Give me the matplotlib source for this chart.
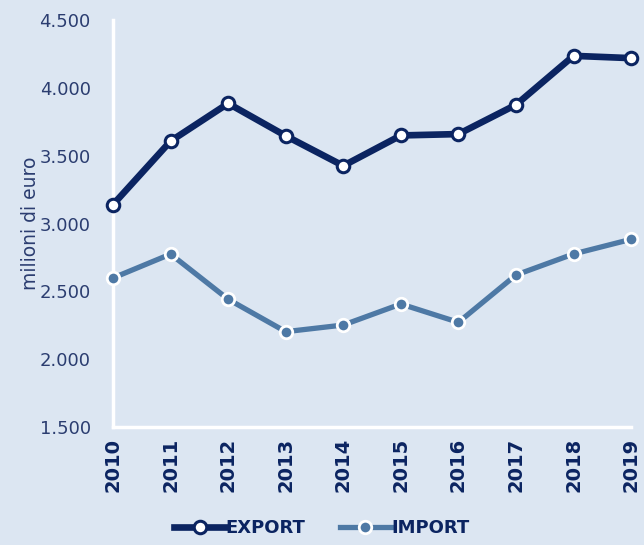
import matplotlib
matplotlib.use("Agg")
import matplotlib.pyplot as plt
from matplotlib.ticker import FuncFormatter

years = ["2010", "2011", "2012", "2013", "2014", "2015", "2016", "2017", "2018", "2019"]
export_vals = [3140, 3608, 3886, 3647, 3426, 3650, 3660, 3876, 4237, 4220]
import_vals = [2599, 2775, 2442, 2203, 2252, 2407, 2272, 2621, 2776, 2884]
y_ticks = [1500, 2000, 2500, 3000, 3500, 4000, 4500]

BG = "#dce6f2"
NAVY = "#0b2461"
STEEL = "#4e79a5"
TXT = "#2b3d70"

plt.rcParams['font.family'] = ['DejaVu Sans']

fig = plt.figure(figsize=(6.44, 5.45), dpi=100, facecolor=BG)
ax = fig.add_axes([0.1755, 0.2165, 0.8045, 0.7465])
ax.set_facecolor(BG)

x = list(range(len(years)))
ax.plot(x, export_vals, color=NAVY, lw=4.8, marker='o', ms=9,
        mfc='white', mec=NAVY, mew=2.2, label='EXPORT', clip_on=False, zorder=3)
ax.plot(x, import_vals, color=STEEL, lw=3.8, marker='o', ms=9,
        mfc=STEEL, mec='white', mew=2.0, label='IMPORT', clip_on=False, zorder=3)

ax.set_xlim(0, len(years) - 1)
ax.set_ylim(1500, 4500)
ax.set_yticks(y_ticks)
ax.yaxis.set_major_formatter(FuncFormatter(lambda v, p: f"{int(v):,}".replace(",", ".")))
ax.set_xticks(x)
ax.set_xticklabels(years, rotation=90, fontsize=14, fontweight='bold', color=NAVY)
ax.tick_params(axis='y', labelsize=13, labelcolor=TXT, length=0, pad=16)
ax.tick_params(axis='x', length=0, pad=8)

for s in ['top', 'right']:
    ax.spines[s].set_visible(False)
for s in ['left', 'bottom']:
    ax.spines[s].set_color('white')
    ax.spines[s].set_linewidth(2.5)

ax.set_ylabel('milioni di euro', fontsize=13.5, color=TXT, labelpad=0)

leg = fig.legend(loc='lower center', bbox_to_anchor=(0.5, -0.015), ncol=2, frameon=False,
                 handlelength=2.8, numpoints=1, columnspacing=1.9, handletextpad=0.05,
                 prop={'size': 13, 'weight': 'bold'})
for t in leg.get_texts():
    t.set_color(NAVY)

fig.savefig('out.png', dpi=100, facecolor=BG)
